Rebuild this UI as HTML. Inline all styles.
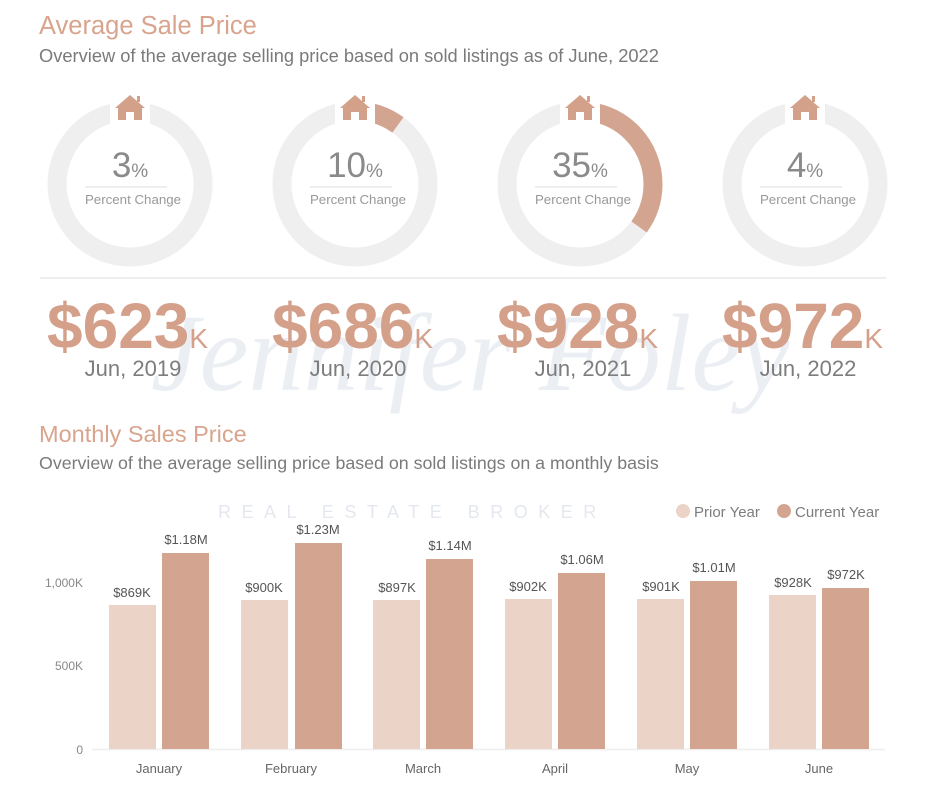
<!DOCTYPE html>
<html><head><meta charset="utf-8"><style>
body{margin:0;background:#fff;}
svg{display:block;font-family:"Liberation Sans",sans-serif;}
</style></head><body>
<svg width="940" height="788" viewBox="0 0 940 788" xmlns="http://www.w3.org/2000/svg">
<text x="39" y="34" font-size="25.5" fill="#d9a48d">Average Sale Price</text>
<text x="39" y="62" font-size="18.3" fill="#7a7a7a">Overview of the average selling price based on sold listings as of June, 2022</text>

<g fill="none" stroke-width="19">
 <circle cx="130" cy="184" r="73" stroke="#efefef"/>
 <circle cx="355" cy="184" r="73" stroke="#efefef"/>
 <circle cx="580" cy="184" r="73" stroke="#efefef"/>
 <circle cx="805" cy="184" r="73" stroke="#efefef"/>
 <circle cx="130" cy="184" r="73" stroke="#d3a591" stroke-dasharray="13.8 500" transform="rotate(-90 130 184)"/>
 <circle cx="355" cy="184" r="73" stroke="#d3a591" stroke-dasharray="45.9 500" transform="rotate(-90 355 184)"/>
 <circle cx="580" cy="184" r="73" stroke="#d3a591" stroke-dasharray="160.5 500" transform="rotate(-90 580 184)"/>
 <circle cx="805" cy="184" r="73" stroke="#d3a591" stroke-dasharray="18.3 500" transform="rotate(-90 805 184)"/>
</g>
<g fill="#fff">
 <rect x="110" y="92" width="40" height="34"/>
 <rect x="335" y="92" width="40" height="34"/>
 <rect x="560" y="92" width="40" height="34"/>
 <rect x="785" y="92" width="40" height="34"/>
</g>
<g fill="#d3a08a">
 <g transform="translate(130,108)"><path d="M-15 0 L0 -13 L15 0 L12 0 L12 12 L4 12 L4 4 L-4 4 L-4 12 L-12 12 L-12 0 Z"/><rect x="7" y="-12" width="3" height="6"/></g>
 <g transform="translate(355,108)"><path d="M-15 0 L0 -13 L15 0 L12 0 L12 12 L4 12 L4 4 L-4 4 L-4 12 L-12 12 L-12 0 Z"/><rect x="7" y="-12" width="3" height="6"/></g>
 <g transform="translate(580,108)"><path d="M-15 0 L0 -13 L15 0 L12 0 L12 12 L4 12 L4 4 L-4 4 L-4 12 L-12 12 L-12 0 Z"/><rect x="7" y="-12" width="3" height="6"/></g>
 <g transform="translate(805,108)"><path d="M-15 0 L0 -13 L15 0 L12 0 L12 12 L4 12 L4 4 L-4 4 L-4 12 L-12 12 L-12 0 Z"/><rect x="7" y="-12" width="3" height="6"/></g>
</g>
<g fill="#8a8a8a" text-anchor="middle">
 <text x="130" y="177" font-size="35">3<tspan font-size="19">%</tspan></text>
 <text x="355" y="177" font-size="35">10<tspan font-size="19">%</tspan></text>
 <text x="580" y="177" font-size="35">35<tspan font-size="19">%</tspan></text>
 <text x="805" y="177" font-size="35">4<tspan font-size="19">%</tspan></text>
 <g font-size="13.3" fill="#999">
 <text x="133" y="204">Percent Change</text><text x="358" y="204">Percent Change</text><text x="583" y="204">Percent Change</text><text x="808" y="204">Percent Change</text>
 </g>
</g>
<g stroke="#e8e8e8" stroke-width="1.5">
 <line x1="85" y1="187" x2="167" y2="187"/><line x1="310" y1="187" x2="392" y2="187"/><line x1="535" y1="187" x2="617" y2="187"/><line x1="760" y1="187" x2="842" y2="187"/>
 <line x1="40" y1="278" x2="886" y2="278" stroke="#eeeeee" stroke-width="2"/>
</g>
<text x="470" y="390" text-anchor="middle" font-family="Liberation Serif,serif" font-style="italic" font-size="110" fill="#c7d3e0" opacity="0.35">Jennifer Foley</text>
<g fill="#d4a08a" font-weight="bold" font-size="64">
 <text x="47" y="348">$623<tspan font-size="28" font-weight="normal">K</tspan></text>
 <text x="272" y="348">$686<tspan font-size="28" font-weight="normal">K</tspan></text>
 <text x="497" y="348">$928<tspan font-size="28" font-weight="normal">K</tspan></text>
 <text x="722" y="348">$972<tspan font-size="28" font-weight="normal">K</tspan></text>
</g>
<g fill="#7d7d7d" font-size="22" text-anchor="middle">
 <text x="133" y="376">Jun, 2019</text><text x="358" y="376">Jun, 2020</text><text x="583" y="376">Jun, 2021</text><text x="808" y="376">Jun, 2022</text>
</g>

<text x="39" y="442" font-size="23.5" fill="#d9a48d">Monthly Sales Price</text>
<text x="39" y="469" font-size="17.8" fill="#7a7a7a">Overview of the average selling price based on sold listings on a monthly basis</text>
<text x="218" y="518" font-size="18" fill="#e4e8ee" letter-spacing="10.5">REAL ESTATE BROKER</text>

<circle cx="683" cy="511" r="7" fill="#ecd3c7"/>
<text x="694" y="517" font-size="15" fill="#7d7d7d">Prior Year</text>
<circle cx="784" cy="511" r="7" fill="#d3a591"/>
<text x="795" y="517" font-size="15" fill="#7d7d7d">Current Year</text>

<g font-size="12" fill="#888" text-anchor="end">
 <text x="83" y="587">1,000K</text><text x="83" y="670">500K</text><text x="83" y="754">0</text>
</g>
<line x1="92" y1="749.5" x2="885" y2="749.5" stroke="#eeeeee" stroke-width="1.5"/>
<g fill="#ecd3c7">
 <rect x="109" y="605" width="47" height="144"/>
 <rect x="241" y="600" width="47" height="149"/>
 <rect x="373" y="600" width="47" height="149"/>
 <rect x="505" y="599" width="47" height="150"/>
 <rect x="637" y="599" width="47" height="150"/>
 <rect x="769" y="595" width="47" height="154"/>
</g>
<g fill="#d3a591">
 <rect x="162" y="553" width="47" height="196"/>
 <rect x="295" y="543" width="47" height="206"/>
 <rect x="426" y="559" width="47" height="190"/>
 <rect x="558" y="573" width="47" height="176"/>
 <rect x="690" y="581" width="47" height="168"/>
 <rect x="822" y="588" width="47" height="161"/>
</g>
<g font-size="13" fill="#555" text-anchor="middle">
 <text x="132" y="597">$869K</text><text x="186" y="544">$1.18M</text>
 <text x="264" y="592">$900K</text><text x="318" y="534">$1.23M</text>
 <text x="397" y="592">$897K</text><text x="450" y="550">$1.14M</text>
 <text x="528" y="591">$902K</text><text x="582" y="564">$1.06M</text>
 <text x="661" y="591">$901K</text><text x="714" y="572">$1.01M</text>
 <text x="793" y="587">$928K</text><text x="846" y="579">$972K</text>
</g>
<g font-size="13" fill="#666" text-anchor="middle">
 <text x="159" y="773">January</text><text x="291" y="773">February</text><text x="423" y="773">March</text>
 <text x="555" y="773">April</text><text x="687" y="773">May</text><text x="819" y="773">June</text>
</g>
</svg>
</body></html>
